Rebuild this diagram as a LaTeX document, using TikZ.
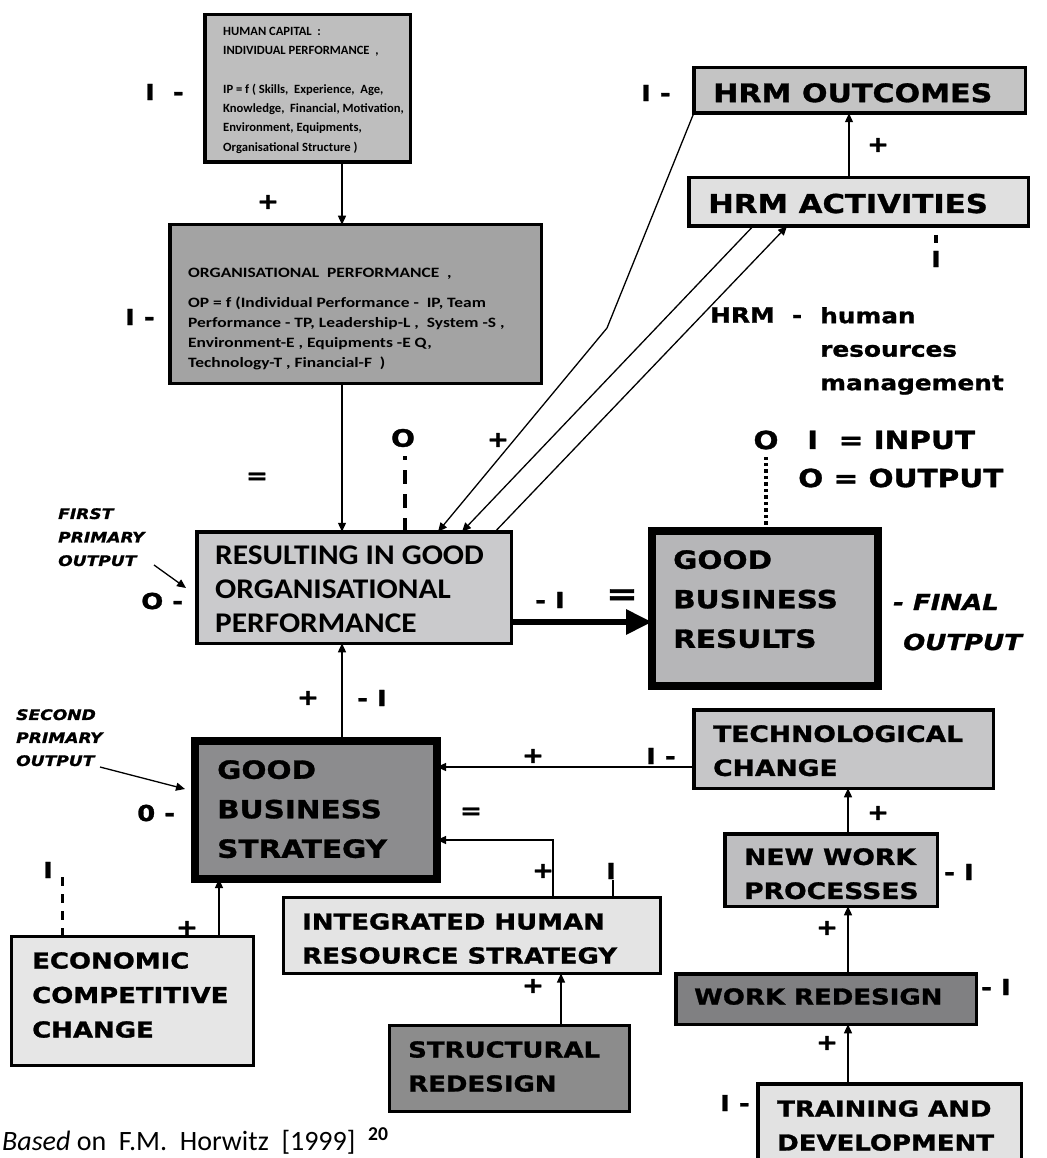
\documentclass[tikz,border=0pt]{standalone}
\usepackage{fontspec}
\setmainfont{Carlito}
\newfontfamily\blk[FakeStretch=1.18,BoldFeatures={FakeBold=1.2},BoldItalicFeatures={FakeBold=1.2}]{DejaVu Sans}
\newfontfamily\cwide[FakeStretch=1.22]{Carlito}
\newfontfamily\cres[FakeStretch=1.1]{Carlito}
\usetikzlibrary{arrows.meta}
\newcommand\fsz[2]{\fontsize{#1}{#2}\selectfont}
\definecolor{cIP}{HTML}{BEBEBE}
\definecolor{cOP}{HTML}{A3A3A3}
\definecolor{cRES}{HTML}{CACACC}
\definecolor{cGBR}{HTML}{B6B6B8}
\definecolor{cOUT}{HTML}{C4C4C4}
\definecolor{cACT}{HTML}{E0E0E0}
\definecolor{cGBS}{HTML}{8C8C8E}
\definecolor{cTC}{HTML}{C6C6C8}
\definecolor{cNWP}{HTML}{BEBEC0}
\definecolor{cWR}{HTML}{808082}
\definecolor{cTD}{HTML}{E2E2E2}
\definecolor{cIH}{HTML}{E4E4E4}
\definecolor{cSR}{HTML}{8C8C8C}
\definecolor{cEC}{HTML}{E6E6E6}
% box: name, x1, y1, x2, y2, fill, line width
\newcommand\bx[7]{\node[box,line width=#7pt,fill=#6,minimum width={(#4-#2-#7)*1pt},minimum height={(#5-#3-#7)*1pt}] (#1) at ({(#2+#4)/2},{(#3+#5)/2}) {};}
\begin{document}
\begin{tikzpicture}[x=1pt,y=-1pt,
  box/.style={draw=black,inner sep=0pt,outer sep=0pt},
  txt/.style={anchor=north west,align=left,inner sep=0pt},
  btxt/.style={txt,font=\blk\bfseries\fsz{22}{34}},
  lab/.style={inner sep=0pt,font=\blk\bfseries\fsz{22}{26}},
  labw/.style={lab,anchor=west},
  itl/.style={inner sep=0pt,font=\blk\bfseries\itshape\fsz{22}{26}},
  arr/.style={line width=1.3pt,-{Triangle[length=9pt,width=8pt]}},
  ln/.style={line width=1.3pt}]
\useasboundingbox (0,0) rectangle (1046,1158);
\clip (0,0) rectangle (1046,1158);

% ---------------- boxes ----------------
\bx{ip}{203}{13}{412}{164}{cIP}{3.5}
\bx{op}{168}{223}{543}{385}{cOP}{3.5}
\bx{res}{195}{530}{513}{645}{cRES}{3.5}
\bx{gbr}{648}{527}{882}{690}{cGBR}{8}
\bx{hout}{692}{66}{1027}{115}{cOUT}{3.5}
\bx{act}{687}{176}{1030}{228}{cACT}{3.5}
\bx{gbs}{191}{737}{441}{883}{cGBS}{8}
\bx{tc}{692}{708}{995}{790}{cTC}{3.5}
\bx{nwp}{723}{832}{939}{908}{cNWP}{3.5}
\bx{wr}{674}{972}{978}{1026}{cWR}{3.5}
\bx{td}{756}{1082}{1023}{1175}{cTD}{3.5}
\bx{ih}{282}{896}{662}{975}{cIH}{3}
\bx{sr}{388}{1024}{631}{1113}{cSR}{3}
\bx{ecc}{10}{935}{255}{1067}{cEC}{3}

% ---------------- box texts ----------------
\node[txt,font=\fsz{12.6}{19.3}\bfseries] (tip) at (223,27) {HUMAN CAPITAL\ \ :\\INDIVIDUAL PERFORMANCE\ \ ,\\[19.3pt]IP\ = f ( Skills,\ \ Experience,\ \ Age,\\Knowledge,\ \ Financial, Motivation,\\Environment, Equipments,\\Organisational Structure )};
\node[txt,font=\cwide\fsz{14.3}{20}\bfseries] (top) at (188,268.4) {ORGANISATIONAL\ \ PERFORMANCE\ \ ,\\[10pt]OP = f (Individual Performance -\ \ IP, Team\\Performance - TP, Leadership-L ,\ \ System -S ,\\Environment-E , Equipments -E Q,\\Technology-T , Financial-F\ \ )};
\node[txt,font=\cres\fsz{28.5}{34}\bfseries] (tres) at (215,545.8) {RESULTING IN GOOD\\ORGANISATIONAL\\PERFORMANCE};
\node[txt,font=\blk\bfseries\fsz{25}{39.5}] (tgbr) at (673,550) {GOOD\\BUSINESS\\RESULTS};
\node[txt,font=\blk\bfseries\fsz{25.5}{30}] (thout) at (713,83) {HRM OUTCOMES};
\node[txt,font=\blk\bfseries\fsz{26}{30}] (tact) at (708,193.5) {HRM ACTIVITIES};
\node[txt,font=\blk\bfseries\fsz{25}{39.5}] (tgbs) at (217,760) {GOOD\\BUSINESS\\STRATEGY};
\node[txt,font=\blk\bfseries\fsz{22.5}{34}] (ttc) at (713,725) {TECHNOLOGICAL\\CHANGE};
\node[txt,font=\blk\bfseries\fsz{22.5}{34}] (tnwp) at (744,848) {NEW WORK\\PROCESSES};
\node[btxt] (twr) at (694,988) {WORK REDESIGN};
\node[btxt] (ttd) at (777,1100) {TRAINING AND\\DEVELOPMENT};
\node[btxt] (tih) at (302,913) {INTEGRATED HUMAN\\RESOURCE STRATEGY};
\node[btxt] (tsr) at (408,1041) {STRUCTURAL\\REDESIGN};
\node[txt,font=\blk\bfseries\fsz{22}{34.5}] (tecc) at (32,952) {ECONOMIC\\COMPETITIVE\\CHANGE};

% ---------------- connectors ----------------
\draw[arr] (342,0 |- ip.south) -- (342,0 |- op.north);
\draw[arr] (342,0 |- op.south) -- (342,0 |- res.north);
\draw[arr] (342,0 |- gbs.north) -- (342,0 |- res.south);
\draw[line width=6pt,-{Triangle[length=26pt,width=24pt]}] (res.east |- 0,622) -- (gbr.west |- 0,622);
\draw[arr] (849,0 |- act.north) -- (849,0 |- hout.south);
\draw[arr] (hout.south west) -- (607,328) -- (438,0 |- res.north);
\draw[arr] (753,0 |- act.south) -- (462,0 |- res.north);
\draw[arr] (495,0 |- res.north) -- (787,0 |- act.south);
\draw[arr] (tc.west |- 0,767) -- (gbs.east |- 0,767);
\draw[arr] (553,0 |- ih.north) |- (gbs.east |- 0,840);
\draw[arr] (219,0 |- ecc.north) -- (219,0 |- gbs.south);
\draw[arr] (561,0 |- sr.north) -- (561,0 |- ih.south);
\draw[arr] (848,0 |- nwp.north) -- (848,0 |- tc.south);
\draw[arr] (848,0 |- wr.north) -- (848,0 |- nwp.south);
\draw[arr] (848,0 |- td.north) -- (848,0 |- wr.south);

% dashed / dotted markers
\coordinate (resO) at (405,456);
\draw[line width=4pt,dash pattern=on 14pt off 10pt] (405,0 |- res.north) -- (resO);
\coordinate (gbrO) at (766,457);
\draw[line width=4pt,dash pattern=on 3.5pt off 3pt] (766,0 |- gbr.north) -- (gbrO);
\coordinate (eccI) at (62,873);
\draw[line width=3pt,dash pattern=on 9pt off 8pt] (62,0 |- ecc.north) -- (eccI);
\coordinate (ihI) at (613,880);
\draw[line width=2pt] (613,0 |- ih.north) -- (ihI);
\coordinate (actI1) at (936,235);
\coordinate (actI2) at (936,243);
\draw[line width=3.5pt] (actI1) -- (actI2);

% pointer arrows for italic notes
\coordinate (fpoA) at (154,565);
\coordinate (fpoB) at (186,588);
\draw[arr] (fpoA) -- (fpoB);
\coordinate (spoA) at (100,767);
\coordinate (spoB) at (185,789);
\draw[arr] (spoA) -- (spoB);

% ---------------- labels ----------------
\node[labw] (l1) at (145,92) {I\ \ -};
\node[labw] (l2) at (125,317) {I\ -};
\node[lab] (l3) at (268,202) {+};
\node[lab] (l4) at (257,478) {=};
\node[lab,font=\blk\bfseries\fsz{24}{26}] (l5) at (403,438) {O};
\node[lab] (l6) at (498,440) {+};
\node[labw] (l7) at (141,601) {O\ -};
\node[labw] (l8) at (535,600) {-\ I};
\node[lab,font=\blk\bfseries\fsz{32}{34}] (l9) at (622,597) {=};
\node[lab,font=\blk\bfseries\fsz{25}{30}] (l10) at (766,440) {O};
\node[labw,font=\blk\bfseries\fsz{25}{30}] (l11) at (807,440) {I\ \ =\ INPUT};
\node[labw,font=\blk\bfseries\fsz{25}{30}] (l12) at (798,478) {O = OUTPUT};
\node[itl,anchor=west] (l13) at (893,602) {-\ FINAL};
\node[itl,anchor=west] (l14) at (903,642) {OUTPUT};
\node[txt,font=\blk\bfseries\itshape\fsz{14.5}{23.5}] (l15) at (58,508) {FIRST\\PRIMARY\\OUTPUT};
\node[txt,font=\blk\bfseries\itshape\fsz{14.5}{23}] (l16) at (16,709) {SECOND\\PRIMARY\\OUTPUT};
\node[lab] (l17) at (936,259) {I};
\node[labw] (l18) at (641,93) {I\ -};
\node[lab] (l19) at (878,145) {+};
\node[lab] (l20) at (308,698) {+};
\node[labw] (l21) at (357,698) {-\ I};
\node[labw] (l22) at (137,813) {0\ -};
\node[lab] (l23) at (471,813) {=};
\node[lab] (l24) at (533,756) {+};
\node[labw] (l25) at (646,756) {I\ -};
\node[lab] (l26) at (878,813) {+};
\node[labw] (l27) at (944,872) {-\ I};
\node[lab] (l28) at (827,928) {+};
\node[labw] (l29) at (981,987) {-\ I};
\node[lab] (l30) at (827,1043) {+};
\node[labw] (l31) at (720,1103) {I\ -};
\node[lab] (l32) at (543,871) {+};
\node[lab] (l33) at (611,871) {I};
\node[lab] (l34) at (533,986) {+};
\node[lab] (l35) at (187,928) {+};
\node[lab] (l36) at (48,870) {I};
% HRM legend
\node[labw,font=\blk\bfseries\fsz{21}{33.5}] (l37) at (710,315) {HRM\ \ -};
\node[txt,font=\blk\bfseries\fsz{21}{33.5}] (l38) at (820,307) {human\\resources\\management};
% caption
\node[anchor=base west,inner sep=0pt,font=\fsz{28}{34}] (cap) at (2,1150) {\textit{Based} on\ \ F.M.\ \ Horwitz\ \ [1999]\ \ \textsuperscript{\bfseries 20}};
\end{tikzpicture}
\end{document}
